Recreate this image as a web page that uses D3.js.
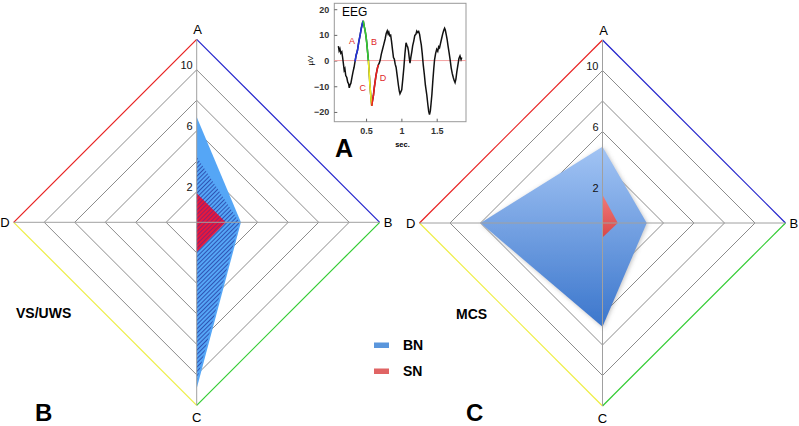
<!DOCTYPE html>
<html>
<head>
<meta charset="utf-8">
<script src="https://cdn.jsdelivr.net/npm/d3@7"></script>
<style>
  body { margin: 0; background: #fff; }
  text { font-family: "Liberation Sans", Arial, sans-serif; }
</style>
</head>
<body>
<div id="chart"></div>
<script>
// Radar axes and ring ticks
const axes = ["A", "B", "C", "D"];
const ringValues = [2, 4, 6, 8, 10];
const ringLabels = [10, 6, 2];
const maxValue = 12;

// Panel B (VS/UWS) values per axis A, B, C, D
const bnVsUws = [6.9, 2.9, 10.9, 0];
const bnVsUwsHatch = [4.3, 2.8, 10.4, 0];
const snVsUws = [1.9, 1.9, 1.95, 0];

// Panel C (MCS)
const bnMcs = [5.0, 2.9, 6.8, 8.0];
const snMcs = [1.85, 1.0, 0.95, 0];

const legendItems = ["BN", "SN"];

// EEG trace (sec, µV)
const eegTrace = [[0.108,5.6],[0.118,3.8],[0.13,4.6],[0.142,2.9],[0.156,3.4],[0.168,1.2],[0.18,-1.5],[0.19,-3.8],[0.2,-3.2],[0.212,-5.8],[0.227,-6.6],[0.24,-8.4],[0.252,-9.0],[0.262,-10.6],[0.272,-9.6],[0.285,-8.8],[0.3,-6.5],[0.315,-4.4],[0.33,-2.6],[0.344,-0.3],[0.36,2.2],[0.377,3.8],[0.395,7.0],[0.415,9.8],[0.432,12.5],[0.45,14.7],[0.46,15.5],[0.472,13.5],[0.486,11.8],[0.5,9.2],[0.51,6.8],[0.522,3.2],[0.533,0],[0.547,-6.1],[0.556,-10.2],[0.566,-13.4],[0.575,-16.2],[0.58,-17.6],[0.59,-15.8],[0.604,-13.6],[0.615,-10.8],[0.627,-8.4],[0.64,-5.9],[0.65,-4.4],[0.662,-2.8],[0.675,-1.6],[0.688,-0.9],[0.7,0.2],[0.715,2.4],[0.735,4.6],[0.75,6.2],[0.77,8.4],[0.785,10.6],[0.8,11.6],[0.812,10.4],[0.822,11.1],[0.835,9.7],[0.848,9.9],[0.86,7.6],[0.875,4.1],[0.888,1.2],[0.9,0.6],[0.912,-1.4],[0.925,-2.6],[0.94,-5.8],[0.958,-9.6],[0.97,-11.8],[0.98,-12.9],[0.993,-12.1],[1.005,-11.4],[1.02,-7.2],[1.035,-2.8],[1.05,2.6],[1.066,6.9],[1.078,6.0],[1.09,5.2],[1.1,3.8],[1.112,0.9],[1.122,-1.0],[1.135,1.4],[1.148,3.5],[1.16,5.8],[1.175,7.6],[1.19,9.8],[1.205,10.2],[1.218,11.5],[1.232,10.9],[1.245,11.3],[1.258,10.2],[1.27,8.0],[1.282,6.1],[1.295,2.8],[1.31,-1.8],[1.325,-5.4],[1.34,-9.6],[1.36,-13.4],[1.375,-17.2],[1.387,-19.8],[1.398,-21.0],[1.41,-19.6],[1.42,-16.8],[1.432,-13.2],[1.445,-8.0],[1.458,-3.4],[1.47,0.4],[1.485,2.8],[1.5,4.4],[1.515,3.6],[1.528,5.4],[1.54,5.0],[1.555,6.8],[1.57,8.6],[1.585,10.4],[1.6,11.8],[1.612,12.6],[1.622,11.9],[1.635,10.1],[1.648,8.2],[1.66,5.8],[1.675,3.2],[1.69,0.4],[1.705,-2.8],[1.72,-5.0],[1.735,-6.6],[1.748,-7.8],[1.76,-8.6],[1.772,-7.2],[1.785,-4.4],[1.8,-1.8],[1.815,0.8],[1.83,1.8],[1.845,0.4],[1.855,1.2]];
const eegPhases = ["A", "B", "C", "D"];
const eegPhaseBounds = [0.344, 0.46, 0.533, 0.58, 0.675];
const eegYTicks = [20, 10, 0, -10, -20];
const eegXTicks = [0.5, 1, 1.5];

const phaseColors = ["#2233dd", "#33cc33", "#eeee22", "#ee2020"];
const outerColors = ["#2222cc", "#33cc33", "#eeee44", "#e82020"];

const W = 799, H = 426;
const svg = d3.select("#chart").append("svg")
    .attr("width", W)
    .attr("height", H);

const defs = svg.append("defs");

function hatch(id, color, width) {
    const p = defs.append("pattern")
        .attr("id", id)
        .attr("patternUnits", "userSpaceOnUse")
        .attr("width", 3).attr("height", 3)
        .attr("patternTransform", "rotate(45)");
    p.append("line")
        .attr("x1", 0).attr("y1", 0).attr("x2", 0).attr("y2", 3)
        .attr("stroke", color).attr("stroke-width", width);
}
hatch("hatchBlue", "#1a2490", 1.3);
hatch("hatchRed", "#3a2aa0", 1);

const gBlue = defs.append("linearGradient").attr("id", "gradBlue")
    .attr("x1", 0).attr("y1", 0).attr("x2", 0).attr("y2", 1);
gBlue.append("stop").attr("offset", "0%").attr("stop-color", "#a2c4f4");
gBlue.append("stop").attr("offset", "100%").attr("stop-color", "#3b76cc");

const gRed = defs.append("linearGradient").attr("id", "gradRed")
    .attr("x1", 0).attr("y1", 0).attr("x2", 0).attr("y2", 1);
gRed.append("stop").attr("offset", "0%").attr("stop-color", "#f07a7a");
gRed.append("stop").attr("offset", "100%").attr("stop-color", "#d84848");

const shadow = defs.append("filter").attr("id", "soft")
    .attr("x", "-10%").attr("y", "-10%").attr("width", "120%").attr("height", "120%");
shadow.append("feDropShadow")
    .attr("dx", 1).attr("dy", 1).attr("stdDeviation", 2)
    .attr("flood-color", "#777").attr("flood-opacity", 0.45);

const rScale = d3.scaleLinear().domain([0, maxValue]).range([0, 183]);
const angle = i => i * Math.PI / 2;

const radial = d3.lineRadial()
    .angle((d, i) => angle(i))
    .radius(d => rScale(d))
    .curve(d3.curveLinearClosed);

function drawRadar(cx, cy, layers) {
    const g = svg.append("g").attr("transform", `translate(${cx},${cy})`);

    // inner rings
    ringValues.forEach(v => {
        g.append("path")
            .attr("d", radial(axes.map(() => v)))
            .attr("fill", "none")
            .attr("stroke", "#8c8c8c")
            .attr("stroke-width", 1);
    });

    // outer ring, one colour per side
    const rMax = rScale(maxValue);
    const corner = i => [Math.sin(angle(i)) * rMax, -Math.cos(angle(i)) * rMax];
    axes.forEach((a, i) => {
        const p0 = corner(i), p1 = corner((i + 1) % 4);
        g.append("line")
            .attr("x1", p0[0]).attr("y1", p0[1])
            .attr("x2", p1[0]).attr("y2", p1[1])
            .attr("stroke", outerColors[i])
            .attr("stroke-width", 1.2);
    });

    // series polygons
    layers.forEach(l => {
        g.append("path")
            .attr("d", radial(l.values))
            .attr("fill", l.fill)
            .attr("filter", l.filter || null);
    });

    // axes
    g.append("line").attr("x1", 0).attr("y1", -rMax).attr("x2", 0).attr("y2", rMax)
        .attr("stroke", "#a0a0a0");
    g.append("line").attr("x1", -rMax).attr("y1", 0).attr("x2", rMax).attr("y2", 0)
        .attr("stroke", "#a0a0a0");

    // tick labels
    g.selectAll(".tick")
        .data(ringLabels)
        .join("text")
        .attr("x", -4)
        .attr("y", d => -rScale(d) - 1)
        .attr("text-anchor", "end")
        .attr("font-size", 11)
        .attr("fill", "#111")
        .text(d => d);

    // axis names
    g.append("text").attr("x", 1).attr("y", -rMax - 5)
        .attr("text-anchor", "middle").attr("font-size", 13).text(axes[0]);
    g.append("text").attr("x", rMax + 4).attr("y", 0).attr("dy", "0.36em")
        .attr("font-size", 13).text(axes[1]);
    g.append("text").attr("x", 0).attr("y", rMax + 17)
        .attr("text-anchor", "middle").attr("font-size", 13).text(axes[2]);
    g.append("text").attr("x", -rMax - 4).attr("y", 0).attr("dy", "0.36em")
        .attr("text-anchor", "end").attr("font-size", 13).text(axes[3]);
}

drawRadar(196.7, 222.3, [
    { values: bnVsUws, fill: "#55a6f6" },
    { values: bnVsUwsHatch, fill: "url(#hatchBlue)" },
    { values: snVsUws, fill: "#e8183c" },
    { values: snVsUws, fill: "url(#hatchRed)" }
]);

drawRadar(602.5, 223, [
    { values: bnMcs, fill: "url(#gradBlue)", filter: "url(#soft)" },
    { values: snMcs, fill: "url(#gradRed)" }
]);

// group labels
svg.append("text").attr("x", 16).attr("y", 318)
    .attr("font-size", 14).attr("font-weight", "bold").text("VS/UWS");
svg.append("text").attr("x", 456).attr("y", 319)
    .attr("font-size", 14).attr("font-weight", "bold").text("MCS");

// panel letters
[["B", 35, 421], ["C", 466, 421]].forEach(([t, x, y]) => {
    svg.append("text").attr("x", x).attr("y", y)
        .attr("font-size", 24).attr("font-weight", "bold").text(t);
});

// legend
const legend = svg.append("g").attr("transform", "translate(374,345)");
const legendColors = ["#5a96dc", "#e06464"];
legendItems.forEach((name, i) => {
    const row = legend.append("g").attr("transform", `translate(0,${i * 26})`);
    row.append("rect").attr("x", 0).attr("y", -2.5).attr("width", 15).attr("height", 5.5)
        .attr("fill", legendColors[i]);
    row.append("text").attr("x", 29).attr("y", 0).attr("dy", "0.36em")
        .attr("font-size", 14).attr("font-weight", "bold").text(name);
});

// ---------- EEG inset ----------
const box = { left: 334.3, right: 466, top: 3.3, bottom: 121.7 };
const ex = d3.scaleLinear().domain([0.05, 1.915]).range([box.left, box.right]);
const ey = d3.scaleLinear().domain([-23.8, 22.3]).range([box.bottom, box.top]);

const inset = svg.append("g");
inset.append("rect")
    .attr("x", box.left).attr("y", box.top)
    .attr("width", box.right - box.left).attr("height", box.bottom - box.top)
    .attr("fill", "#fff").attr("stroke", "#999");

const yAx = inset.append("g").attr("transform", `translate(${box.left},0)`)
    .call(d3.axisLeft(ey).tickValues(eegYTicks).tickSizeInner(-3).tickSizeOuter(0).tickPadding(5));
const xAx = inset.append("g").attr("transform", `translate(0,${box.bottom})`)
    .call(d3.axisBottom(ex).tickValues(eegXTicks).tickSizeInner(-3).tickSizeOuter(0).tickPadding(6)
        .tickFormat(d3.format("")));
[yAx, xAx].forEach(a => {
    a.select(".domain").remove();
    a.selectAll("line").attr("stroke", "#666");
    a.selectAll("text").attr("font-size", 9).attr("font-weight", "bold")
        .attr("font-family", "Liberation Sans, Arial, sans-serif").attr("fill", "#333");
});

inset.append("line")
    .attr("x1", box.left).attr("x2", box.right)
    .attr("y1", ey(0)).attr("y2", ey(0))
    .attr("stroke", "#f4a0a0").attr("stroke-width", 1);

const eegLine = d3.line().x(d => ex(d[0])).y(d => ey(d[1]));
inset.append("path")
    .datum(eegTrace)
    .attr("d", eegLine)
    .attr("fill", "none").attr("stroke", "#111").attr("stroke-width", 1.5);

eegPhases.forEach((p, i) => {
    const lo = eegPhaseBounds[i], hi = eegPhaseBounds[i + 1];
    const seg = eegTrace.filter(d => d[0] >= lo && d[0] <= hi);
    inset.append("path")
        .datum(seg)
        .attr("d", eegLine)
        .attr("fill", "none").attr("stroke", phaseColors[i]).attr("stroke-width", 1.6);
    const mid = seg[Math.floor(seg.length / 2)];
    const side = i % 2 === 0 ? -1 : 1;
    inset.append("text")
        .attr("x", ex(mid[0]) + side * 8)
        .attr("y", ey(mid[1] * 0.8))
        .attr("dy", "0.35em")
        .attr("text-anchor", "middle")
        .attr("font-size", 9).attr("fill", "#e02828")
        .text(p);
});

inset.append("text").attr("x", 342).attr("y", 16)
    .attr("font-size", 12).text("EEG");
inset.append("text")
    .attr("transform", `translate(313,${ey(0)}) rotate(-90)`)
    .attr("text-anchor", "middle").attr("font-size", 8).text("µV");
inset.append("text").attr("x", 402.5).attr("y", 146.5)
    .attr("text-anchor", "middle").attr("font-size", 7.5).attr("font-weight", "bold").text("sec.");
svg.append("text").attr("x", 335).attr("y", 157)
    .attr("font-size", 25).attr("font-weight", "bold").text("A");
</script>
</body>
</html>
